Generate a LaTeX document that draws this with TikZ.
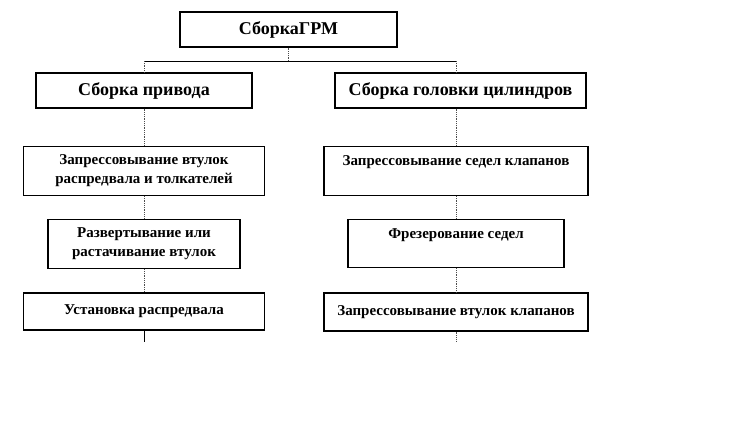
\documentclass[tikz,border=0pt]{standalone}
\usepackage{fontspec}
\setmainfont{Liberation Serif}
\usetikzlibrary{positioning}

\begin{document}
\begin{tikzpicture}[
  every node/.style={font=\bfseries},
  box/.style={rectangle, draw, line width=1.3pt, align=center, inner sep=2pt},
  head/.style={box, minimum height=35pt, font=\fontsize{18}{20}\selectfont\bfseries},
  stage/.style={box, font=\fontsize{15}{19}\selectfont\bfseries},
  upper/.style={text height=14pt, text depth=24pt},
  link/.style={densely dotted, line width=0.8pt, black!70},
  bus/.style={thin, black},
]
\useasboundingbox (0,0) rectangle (739pt,-423pt);

% Top and first level
\node[head, minimum width=217pt] (grm) at (288.5pt,-29.5pt) {СборкаГРМ};
\node[head, minimum width=216pt] (drive) at (144pt,-90.5pt) {Сборка привода};
\node[head, minimum width=251pt] (head) at (460.5pt,-90.5pt) {Сборка головки цилиндров};

% Left branch
\node[stage, minimum width=241pt, minimum height=49pt, below=37pt of drive] (press) {Запрессовывание втулок\\распредвала и толкателей};
\node[stage, minimum width=192pt, minimum height=49pt, below=23pt of press] (ream) {Развертывание или\\растачивание втулок};
\node[stage, minimum width=241pt, minimum height=37pt, below=23pt of ream] (cam) {Установка распредвала};

% Right branch
\node[stage, upper, minimum width=264pt, minimum height=49pt, below=37pt of head, xshift=-4.5pt] (seats) {Запрессовывание седел клапанов};
\node[stage, upper, minimum width=216pt, minimum height=48pt, below=23pt of seats] (mill) {Фрезерование седел};
\node[stage, minimum width=264pt, minimum height=38pt, below=24pt of mill] (guides) {Запрессовывание втулок клапанов};

% Bus line
\coordinate (split) at (0pt,-61pt);
\draw[link] (grm.south) -- (grm.south |- split);
\draw[bus] (drive.north |- split) -- (seats.north |- split);
\draw[link] (drive.north |- split) -- (drive.north);
\draw[link] (seats.north |- split) -- (seats.north |- head.north);

% Branch links
\draw[link] (drive) -- (press);
\draw[link] (press) -- (ream);
\draw[link] (ream) -- (cam);
\draw[link] (head.south -| seats.north) -- (seats.north);
\draw[link] (seats) -- (mill);
\draw[link] (mill) -- (guides);

% Tails
\coordinate[below=11pt of cam] (camend);
\coordinate[below=10pt of guides] (guideend);
\draw[bus] (cam.south) -- (camend);
\draw[link] (guides.south) -- (guideend);
\end{tikzpicture}
\end{document}
